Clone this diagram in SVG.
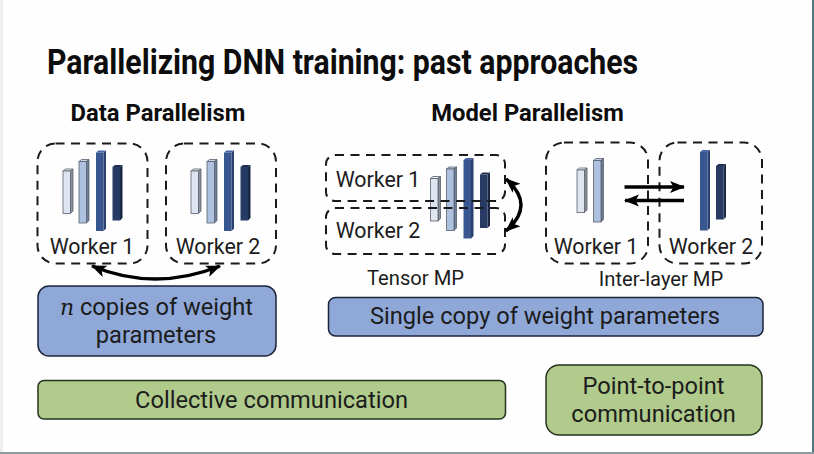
<svg xmlns="http://www.w3.org/2000/svg" width="814" height="454" viewBox="0 0 814 454">
<style>
text{font-family:Roboto,"Liberation Sans",sans-serif;fill:#1c1c1c;text-anchor:middle}
.t{font-size:35px;font-weight:700;fill:#0d0d0d}
.h{font-size:23.8px;font-weight:700;fill:#0d0d0d}
.w{font-size:21.4px}
.s{font-size:20.2px}
.b{font-size:23.65px}
.d{fill:none;stroke:#1a1a1a;stroke-width:2;stroke-dasharray:9 6.5}
.blue{fill:#8fa8d8;stroke:#1b2438;stroke-width:1.5}
.green{fill:#b0cb8b;stroke:#25331c;stroke-width:1.5}
.c{fill:none;stroke:#000;stroke-width:3.5}
.e{stroke:#59606c;stroke-width:.8}
</style>
<defs>
<marker id="ah" markerUnits="userSpaceOnUse" markerWidth="16" markerHeight="14" refX="14" refY="6" orient="auto-start-reverse" viewBox="0 0 16 12"><path d="M0 0L15 6L0 12L3.500 6Z" fill="#000"/></marker>
<g id="l1"><path class="e" d="M0 2L2.500 0H10L7.500 2Z" fill="#eef1f6"/><path class="e" d="M7.500 2L10 0V42L7.500 44.500Z" fill="#8b8f96"/><rect class="e" x="0" y="2" width="7.500" height="42.500" fill="#dfe5f0"/></g>
<g id="l2"><path class="e" d="M0 2L2.500 0H10L7.500 2Z" fill="#c5d2e8"/><path class="e" d="M7.500 2L10 0V61L7.500 63.500Z" fill="#6e7f9b"/><rect class="e" x="0" y="2" width="7.500" height="61.500" fill="#afc1e0"/></g>
<g id="l3"><path d="M0 2L2.500 0H10L7.500 2Z" fill="#4a67a5"/><path d="M7.500 2L10 0V78L7.500 80.500Z" fill="#2a3f6f"/><rect x="0" y="2" width="7.500" height="78.500" fill="#38568f"/></g>
<g id="l4"><path d="M0 2L2.500 0H10L7.500 2Z" fill="#1f2f52"/><path d="M7.500 2L10 0V53L7.500 55.500Z" fill="#1a2745"/><rect x="0" y="2" width="7.500" height="53.500" fill="#263a64"/></g>
</defs>
<rect width="814" height="454" fill="#fefefe"/>
<rect x="0" y="0" width="3" height="454" fill="#eeeeee"/>
<rect x="812" y="0" width="2" height="454" fill="#4f7580"/>
<rect x="0" y="452" width="814" height="2" fill="#8d9a9e"/>

<g id="title"><text class="t" x="342.500" y="74" textLength="591" lengthAdjust="spacingAndGlyphs">Parallelizing DNN training: past approaches</text></g>
<g id="heading-data"><text class="h" x="158" y="121">Data Parallelism</text></g>
<g id="heading-model"><text class="h" x="527.500" y="121">Model Parallelism</text></g>

<g id="dp-worker1">
<rect class="d" x="37.500" y="143.500" width="110" height="120" rx="18"/>
<use href="#l1" x="63" y="169"/><use href="#l2" x="79" y="159.500"/><use href="#l3" x="96" y="150.500"/><use href="#l4" x="112.500" y="165"/>
<text class="w" x="92" y="253.500">Worker 1</text>
</g>
<g id="dp-worker2">
<rect class="d" x="166" y="143.500" width="110" height="120" rx="18"/>
<use href="#l1" x="191" y="169"/><use href="#l2" x="207" y="159.500"/><use href="#l3" x="224" y="150.500"/><use href="#l4" x="240.500" y="165"/>
<text class="w" x="218" y="253.500">Worker 2</text>
</g>

<g id="tensor-layers">
<use href="#l1" x="430.500" y="176.500"/><use href="#l2" x="446.500" y="167"/><use href="#l3" x="463.500" y="158"/><use href="#l4" x="480" y="172.500"/>
</g>
<g id="tensor-worker1">
<rect class="d" x="326" y="155" width="179" height="46" rx="9"/>
<text class="w" x="378" y="186.500">Worker 1</text>
</g>
<g id="tensor-worker2">
<rect class="d" x="326" y="208" width="179" height="46" rx="9"/>
<text class="w" x="378" y="237.500">Worker 2</text>
</g>
<g id="tensor-label"><text class="s" x="415.500" y="285">Tensor MP</text></g>

<g id="inter-worker1">
<rect class="d" x="546" y="142.500" width="102" height="121" rx="18"/>
<use href="#l1" x="577" y="168"/><use href="#l2" x="593.500" y="158.500"/>
<text class="w" x="596" y="253.500">Worker 1</text>
</g>
<g id="inter-worker2">
<rect class="d" x="659.500" y="142.500" width="102.500" height="121" rx="18"/>
<use href="#l3" x="700" y="150"/><use href="#l4" x="716" y="164"/>
<text class="w" x="711" y="253.500">Worker 2</text>
</g>
<g id="inter-label"><text class="s" x="661" y="286">Inter-layer MP</text></g>

<g id="connectors">
<path class="c" d="M92 266Q155 292 220 266" marker-start="url(#ah)" marker-end="url(#ah)"/>
<path class="c" d="M506 179Q536 205 506 231" marker-start="url(#ah)" marker-end="url(#ah)"/>
<path class="c" d="M624.500 187H684" marker-end="url(#ah)"/>
<path class="c" d="M684 200.500H625" marker-end="url(#ah)"/>
</g>

<g id="n-copies">
<rect class="blue" x="38" y="286" width="238" height="70" rx="11"/>
<text class="b" x="156.500" y="315"><tspan font-family="'DejaVu Serif',serif" font-style="italic" font-size="22">n</tspan> copies of weight</text>
<text class="b" x="156" y="343">parameters</text>
</g>
<g id="single-copy">
<rect class="blue" x="328.500" y="297.500" width="434.500" height="38.500" rx="7"/>
<text class="b" x="545" y="324">Single copy of weight parameters</text>
</g>
<g id="collective">
<rect class="green" x="38" y="380.500" width="467.500" height="38.500" rx="6"/>
<text class="b" x="271.500" y="408">Collective communication</text>
</g>
<g id="point-to-point">
<rect class="green" x="546" y="365" width="216" height="70" rx="13"/>
<text class="b" x="653.500" y="394">Point-to-point</text>
<text class="b" x="653.500" y="422">communication</text>
</g>
</svg>
